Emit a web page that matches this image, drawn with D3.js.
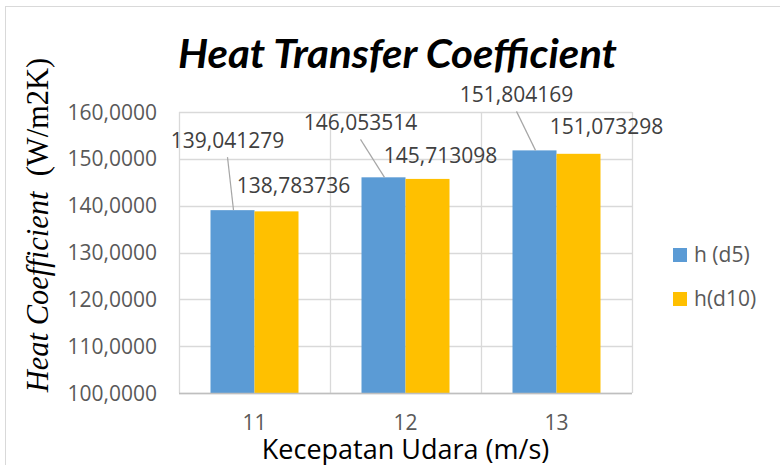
<!DOCTYPE html>
<html>
<head>
<meta charset="utf-8">
<script src="https://cdn.jsdelivr.net/npm/d3@7"></script>
<style>
  html, body { margin: 0; padding: 0; background: #fff; }
  svg { display: block; }
  .ytitle, .ytitle tspan { font-family: "Liberation Serif", "DejaVu Serif", "Times New Roman", serif; white-space: pre; }
</style>
</head>
<body>
<svg id="chart" width="780" height="465"></svg>
<script>
// Air speed categories (m/s)
const categories = [11, 12, 13];
// Heat transfer coefficient per series
const seriesNames = ["h (d5)", "h(d10)"];
const hD5 = [139.041279, 146.053514, 151.804169];
const hD10 = [138.783736, 145.713098, 151.073298];
// Value axis ticks
const yTicks = [100, 110, 120, 130, 140, 150, 160];

const colors = ["#5b9bd5", "#ffc000"];

// Hand-placed data label offsets (dx from bar centre, dy from bar top) and leader flags
const labelLayout = [
  [{ dx: -5, dy: -62, leader: true }, { dx: 17, dy: -18, leader: false }],
  [{ dx: -23, dy: -47, leader: true }, { dx: 13, dy: -16, leader: false }],
  [{ dx: -18, dy: -48, leader: true }, { dx: 28, dy: -20, leader: false }]
];

const fmtComma = (v, digits) => v.toFixed(digits).replace(".", ",");

const svg = d3.select("#chart");

// Chart frame
svg.append("rect")
  .attr("x", 5.5).attr("y", 6.5)
  .attr("width", 800).attr("height", 480)
  .attr("fill", "#fff")
  .attr("stroke", "#d9d9d9").attr("stroke-width", 1);

const plot = { left: 179, right: 632, top: 112, bottom: 393 };

const x = d3.scaleBand().domain(categories).range([plot.left, plot.right]).padding(0);
const barW = 44;
const xSeries = d3.scaleBand().domain([0, 1])
  .range([x.bandwidth() / 2 - barW, x.bandwidth() / 2 + barW]).padding(0);
const y = d3.scaleLinear().domain([100, 160]).range([plot.bottom, plot.top]);

// Horizontal gridlines
svg.append("g").selectAll("line").data(yTicks).join("line")
  .attr("x1", plot.left).attr("x2", plot.right)
  .attr("y1", d => Math.round(y(d)) + 0.5).attr("y2", d => Math.round(y(d)) + 0.5)
  .attr("stroke", "#d9d9d9").attr("stroke-width", 1.3);

// Vertical category separators
const seps = categories.map(c => x(c)).concat([plot.right]);
svg.append("g").selectAll("line").data(seps).join("line")
  .attr("x1", d => Math.round(d) + 0.5).attr("x2", d => Math.round(d) + 0.5)
  .attr("y1", plot.top).attr("y2", plot.bottom)
  .attr("stroke", "#d9d9d9").attr("stroke-width", 1.3);

// Bars
const rows = categories.map((c, i) => ({ cat: c, vals: [hD5[i], hD10[i]] }));
const groups = svg.append("g").selectAll("g").data(rows).join("g")
  .attr("transform", d => `translate(${x(d.cat)},0)`);
groups.selectAll("rect").data(d => d.vals.map((v, s) => ({ v, s }))).join("rect")
  .attr("x", d => xSeries(d.s))
  .attr("width", xSeries.bandwidth())
  .attr("y", d => y(d.v))
  .attr("height", d => y(100) - y(d.v))
  .attr("fill", d => colors[d.s]);

// Category axis line
svg.append("line")
  .attr("x1", plot.left).attr("x2", plot.right)
  .attr("y1", plot.bottom + 0.5).attr("y2", plot.bottom + 0.5)
  .attr("stroke", "#bfbfbf").attr("stroke-width", 1.5);

// Value axis tick labels
const yAxis = d3.axisLeft(y).tickValues(yTicks).tickSize(0).tickPadding(0)
  .tickFormat(d => fmtComma(d, 4));
svg.append("g").attr("transform", `translate(157,0)`).call(yAxis)
  .call(g => g.select(".domain").remove())
  .selectAll("text")
  .attr("font-family", "Open Sans").attr("font-size", 21)
  .attr("fill", "#595959").attr("dy", "0.34em");

// Category tick labels
const xAxis = d3.axisBottom(x).tickSize(0).tickPadding(0);
svg.append("g").attr("transform", `translate(0,414)`).call(xAxis)
  .call(g => g.select(".domain").remove())
  .selectAll("text")
  .attr("font-family", "Open Sans").attr("font-size", 21)
  .attr("fill", "#595959").attr("dy", "0.77em");

// Data labels with leader lines
rows.forEach((r, i) => {
  r.vals.forEach((v, s) => {
    const L = labelLayout[i][s];
    const cx = x(r.cat) + xSeries(s) + xSeries.bandwidth() / 2;
    const top = y(v);
    const tx = cx + L.dx, ty = top + L.dy;
    if (L.leader) {
      svg.append("line")
        .attr("x1", tx).attr("y1", ty + 9)
        .attr("x2", cx + 1).attr("y2", top)
        .attr("stroke", "#a6a6a6").attr("stroke-width", 1.2);
    }
    svg.append("text")
      .attr("x", tx).attr("y", ty)
      .attr("text-anchor", "middle")
      .attr("font-family", "Open Sans").attr("font-size", 21)
      .attr("fill", "#404040")
      .text(fmtComma(v, 6));
  });
});

// Title
svg.append("text")
  .attr("x", 178).attr("y", 68)
  .attr("font-family", "Lato").attr("font-weight", "bold").attr("font-style", "italic")
  .attr("font-size", 40)
  .attr("textLength", 439).attr("lengthAdjust", "spacingAndGlyphs")
  .attr("fill", "#000")
  .text("Heat Transfer Coefficient");

// Category axis title
svg.append("text")
  .attr("x", 405.5).attr("y", 459)
  .attr("text-anchor", "middle")
  .attr("font-family", "Open Sans").attr("font-size", 27)
  .attr("fill", "#000")
  .text("Kecepatan Udara (m/s)");

// Value axis title: italic quantity, upright unit
const yt = svg.append("text")
  .attr("class", "ytitle")
  .attr("transform", "translate(48,225) rotate(-90)")
  .attr("text-anchor", "middle")
  .attr("font-size", 30.5)
  .attr("fill", "#000");
yt.append("tspan").attr("font-style", "italic").text("Heat Coefficient  ");
yt.append("tspan").attr("font-style", "normal").text("(W/m2K)");

// Legend
const legend = svg.append("g").selectAll("g").data(seriesNames).join("g")
  .attr("transform", (d, i) => `translate(673,${248 + i * 44})`);
legend.append("rect").attr("width", 14).attr("height", 14)
  .attr("fill", (d, i) => colors[i]);
legend.append("text").attr("x", 21).attr("y", 14)
  .attr("font-family", "Open Sans").attr("font-size", 21)
  .attr("fill", "#595959")
  .text(d => d);
</script>
</body>
</html>
